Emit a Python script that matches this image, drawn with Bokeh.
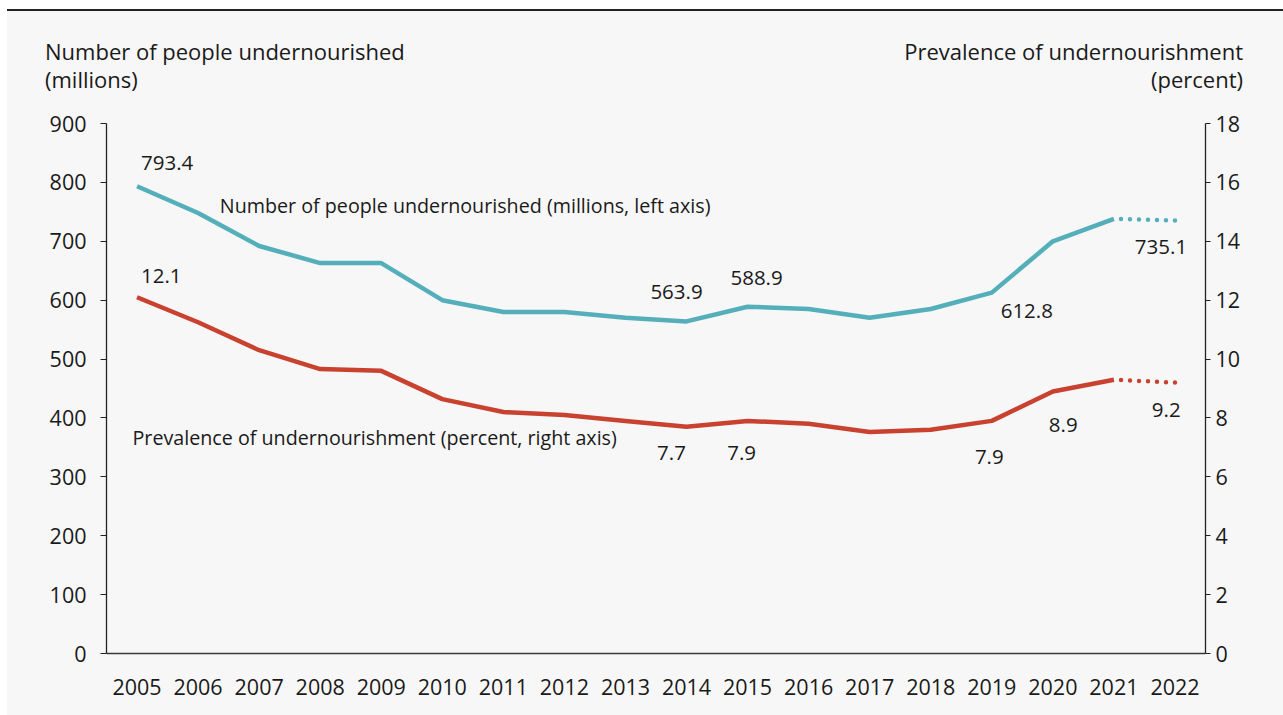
from bokeh.plotting import figure
from bokeh.models import Range1d, LinearAxis, FixedTicker, Label, Div, InlineStyleSheet
from bokeh.layouts import column
from bokeh.embed import file_html
from bokeh.resources import INLINE

# ---------------- data ----------------
years = [2005, 2006, 2007, 2008, 2009, 2010, 2011, 2012, 2013, 2014, 2015, 2016, 2017, 2018, 2019, 2020, 2021]
people_millions = [793.4, 748, 692, 663, 663, 600, 580, 580, 570, 563.9, 588.9, 585, 570, 585, 612.8, 700, 738]
prevalence_pct = [12.1, 11.25, 10.3, 9.66, 9.6, 8.64, 8.2, 8.1, 7.9, 7.7, 7.9, 7.8, 7.52, 7.6, 7.9, 8.9, 9.3]
proj_years = [2022, 2021]          # projected segment (dotted), drawn from 2022 back to 2021
proj_people = [735.1, 738]
proj_prev = [9.2, 9.3]

x_ticks = list(range(2005, 2023))
left_ticks = [0, 100, 200, 300, 400, 500, 600, 700, 800, 900]
right_ticks = [0, 2, 4, 6, 8, 10, 12, 14, 16, 18]

left_title = ["Number of people undernourished", "(millions)"]
right_title = ["Prevalence of undernourishment", "(percent)"]
people_series_label = "Number of people undernourished (millions, left axis)"
prev_series_label = "Prevalence of undernourishment (percent, right axis)"

# annotated values: (year, value, text)
people_notes = [(2005, 793.4, "793.4"), (2014, 563.9, "563.9"), (2015, 588.9, "588.9"),
                (2019, 612.8, "612.8"), (2022, 735.1, "735.1")]
prev_notes = [(2005, 12.1, "12.1"), (2014, 7.7, "7.7"), (2015, 7.9, "7.9"),
              (2019, 7.9, "7.9"), (2020, 8.9, "8.9"), (2022, 9.2, "9.2")]

# ---------------- styling ----------------
FONT = "Open Sans"
TEAL = "#55afba"
RED = "#c8422f"
BG = "#f7f7f7"
TXT = "#1a1a1a"
TICK_FS = "21.5px"
NOTE_FS = "20.5px"
SERIES_FS = "19.7px"
LIFT = 8  # baseline correction in pixels

p = figure(width=1276, height=606, output_backend="svg", toolbar_location=None,
           x_range=Range1d(2004.5, 2022.5), y_range=Range1d(0, 900),
           min_border_left=99, min_border_right=78, min_border_top=14, min_border_bottom=62,
           margin=0)
p.background_fill_color = BG
p.border_fill_color = BG
p.outline_line_color = None
p.xgrid.visible = False
p.ygrid.visible = False
p.extra_y_ranges = {"pct": Range1d(0, 18)}

# left axis
ya = p.yaxis[0]
ya.ticker = FixedTicker(ticks=left_ticks)
ya.axis_line_color = "#222222"
ya.axis_line_width = 1.3
ya.major_tick_line_color = "#222222"
ya.major_tick_out = 6
ya.major_tick_in = 0
ya.minor_tick_line_color = None
ya.major_label_standoff = 14
ya.major_label_text_font = FONT
ya.major_label_text_font_size = TICK_FS
ya.major_label_text_color = TXT

# right axis
ra = LinearAxis(y_range_name="pct", ticker=FixedTicker(ticks=right_ticks))
ra.axis_line_color = "#222222"
ra.axis_line_width = 1.3
ra.major_tick_line_color = "#222222"
ra.major_tick_out = 5
ra.major_tick_in = 0
ra.minor_tick_line_color = None
ra.major_label_standoff = 5
ra.major_label_text_font = FONT
ra.major_label_text_font_size = TICK_FS
ra.major_label_text_color = TXT
p.add_layout(ra, "right")

# bottom axis
xa = p.xaxis[0]
xa.ticker = FixedTicker(ticks=x_ticks)
xa.axis_line_color = "#3a3a3a"
xa.axis_line_width = 1.6
xa.major_tick_line_color = None
xa.minor_tick_line_color = None
xa.major_label_standoff = 19
xa.major_label_text_font = FONT
xa.major_label_text_font_size = TICK_FS
xa.major_label_text_color = TXT

# lines
p.line(years, people_millions, line_color=TEAL, line_width=4.5, line_join="round")
p.line(years, prevalence_pct, y_range_name="pct", line_color=RED, line_width=4.5, line_join="round")
p.line(proj_years, proj_people, line_color=TEAL, line_width=4.5, line_dash="0 9", line_cap="round")
p.line(proj_years, proj_prev, y_range_name="pct", line_color=RED, line_width=4.5, line_dash="0 9", line_cap="round")

# value labels (offsets in pixels relative to the data point)
people_off = {2005: (4, 15, "left"), 2014: (-10, 21, "center"), 2015: (9, 20.5, "center"),
              2019: (35, -26, "center"), 2022: (-14, -34, "center")}
prev_off = {2005: (4, 13.4, "left"), 2014: (-15, -34.4, "center"), 2015: (-6, -40.3, "center"),
            2019: (-2.5, -44.6, "center"), 2020: (10.4, -41.3, "center"), 2022: (-8.7, -35.2, "center")}

for yr, v, t in people_notes:
    dx, dy, al = people_off[yr]
    p.add_layout(Label(x=yr, y=v, text=t, x_offset=dx, y_offset=dy + LIFT, text_align=al,
                       text_baseline="alphabetic", text_font=FONT, text_font_size=NOTE_FS,
                       text_color=TXT))
for yr, v, t in prev_notes:
    dx, dy, al = prev_off[yr]
    p.add_layout(Label(x=yr, y=v, y_range_name="pct", text=t, x_offset=dx, y_offset=dy + LIFT, text_align=al,
                       text_baseline="alphabetic", text_font=FONT, text_font_size=NOTE_FS,
                       text_color=TXT))

# series labels
p.add_layout(Label(x=2006.356, y=747.7, y_offset=LIFT, text=people_series_label,
                   text_baseline="alphabetic", text_font=FONT, text_font_size=SERIES_FS, text_color=TXT))
p.add_layout(Label(x=2004.926, y=353.2, y_offset=LIFT, text=prev_series_label,
                   text_baseline="alphabetic", text_font=FONT, text_font_size=SERIES_FS, text_color=TXT))

# header: top rule + axis titles
font_css = f"font-family:'{FONT}';font-size:22px;line-height:28px;color:{TXT};white-space:nowrap;"
header_html = (
    f'<div style="position:relative;width:1276px;height:100px;background-color:{BG};">'
    '<div style="position:absolute;left:0;top:0;width:1276px;height:2px;background-color:#222222;"></div>'
    f'<div style="position:absolute;left:38px;top:27.5px;text-align:left;{font_css}">'
    f'{left_title[0]}<br>{left_title[1]}</div>'
    f'<div style="position:absolute;right:40px;top:27.5px;text-align:right;{font_css}">'
    f'{right_title[0]}<br>{right_title[1]}</div>'
    '</div>'
)
bg_sheet = InlineStyleSheet(css=f":host {{ background-color: {BG} !important; }} "
                                f"div {{ background-color: {BG}; }}")
header = Div(text=header_html, width=1276, height=100, margin=0,
             styles={"background-color": BG}, stylesheets=[bg_sheet])

layout = column(header, p, spacing=0, margin=(9, 0, 0, 7),
                styles={"background-color": BG})

open("out.html", "w").write(file_html(layout, INLINE))
